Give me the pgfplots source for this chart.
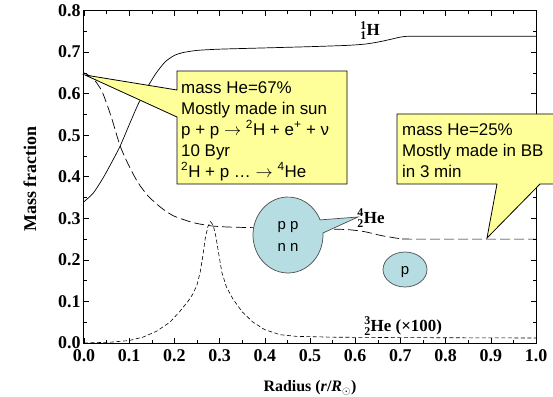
\documentclass[border=0pt]{standalone}
\usepackage{fontspec}
\setmainfont{Liberation Serif}
\newfontfamily\arial{Liberation Sans}
\usepackage{amsmath}
\usepackage{pgfplots}
\pgfplotsset{compat=1.18}
\definecolor{calloutyellow}{RGB}{255,255,153}
\definecolor{calloutblue}{RGB}{182,221,226}
\newcommand\iso[3]{$^{\text{#1}}_{\text{#2}}$#3}
\newcommand\cfont{\arial\fontsize{17}{21}\selectfont}

\pgfplotstableread{
x y
0.00 0.340
0.02 0.360
0.04 0.393
0.06 0.432
0.08 0.474
0.10 0.525
0.12 0.575
0.14 0.615
0.16 0.650
0.18 0.677
0.20 0.692
0.22 0.699
0.25 0.704
0.30 0.707
0.40 0.710
0.50 0.713
0.58 0.716
0.62 0.719
0.65 0.724
0.68 0.731
0.70 0.736
0.72 0.738
0.80 0.738
1.00 0.738
}\hone

\pgfplotstableread{
x y
0.00 0.650
0.02 0.637
0.04 0.605
0.06 0.545
0.08 0.474
0.10 0.425
0.12 0.385
0.14 0.356
0.16 0.335
0.18 0.318
0.20 0.305
0.24 0.290
0.28 0.282
0.32 0.279
0.40 0.277
0.50 0.275
0.58 0.273
0.62 0.268
0.66 0.258
0.70 0.251
0.72 0.250
1.00 0.250
}\hefour

\pgfplotstableread{
x y
0.000 0.000
0.060 0.002
0.100 0.006
0.130 0.014
0.160 0.028
0.190 0.050
0.212 0.076
0.230 0.100
0.241 0.118
0.250 0.140
0.257 0.170
0.263 0.210
0.268 0.250
0.274 0.280
0.280 0.292
0.286 0.283
0.292 0.255
0.298 0.215
0.305 0.170
0.315 0.135
0.330 0.105
0.350 0.075
0.374 0.050
0.400 0.032
0.434 0.020
0.470 0.016
0.550 0.014
0.700 0.013
1.000 0.012
}\hethree

\begin{document}
\begin{tikzpicture}[x=1bp,y=1bp]
\path[use as bounding box, clip] (-84,-53) rectangle (469,343);
\begin{axis}[
  at={(0,0)}, anchor=south west,
  scale only axis, width=452bp, height=332.5bp,
  xmin=0, xmax=1, ymin=0, ymax=0.8,
  xtick={0,0.1,0.2,0.3,0.4,0.5,0.6,0.7,0.8,0.9,1.0},
  ytick={0,0.1,0.2,0.3,0.4,0.5,0.6,0.7,0.8},
  minor tick num=1,
  tick align=inside,
  major tick length=5bp, minor tick length=3bp,
  axis line style={line width=1bp},
  every tick/.style={black, line width=0.6bp},
  tick label style={font=\fontsize{18}{18}\selectfont\bfseries},
  xticklabel style={yshift=-3bp},
  yticklabel style={xshift=0bp},
  /pgf/number format/assume math mode=true,
  /pgf/number format/.cd, fixed, fixed zerofill, precision=1, /pgfplots/.cd,
  xlabel={\textbf{Radius (\textit{r}/\textit{R}$_{\odot}$)}},
  ylabel={\textbf{Mass fraction}},
  every axis x label/.style={at={(axis description cs:0.5,-0.135)}, anchor=center, font=\fontsize{16}{16}\selectfont},
  every axis y label/.style={at={(axis description cs:-0.1195,0.493)}, anchor=center, rotate=90, font=\fontsize{18}{18}\selectfont},
]
\addplot[black, line width=0.7bp, smooth, tension=0.4] table {\hone};
\addplot[black, line width=0.7bp, smooth, tension=0.4, dash pattern=on 10bp off 4bp] table {\hefour};
\addplot[black, line width=0.6bp, dash pattern=on 4bp off 2.5bp] table {\hethree};
\node[font=\fontsize{17}{17}\selectfont\bfseries] at (axis cs:0.633,0.752) {\iso{1}{1}{H}};
\node[font=\fontsize{17}{17}\selectfont\bfseries] at (axis cs:0.635,0.300) {\iso{4}{2}{He}};
\node[font=\fontsize{17}{17}\selectfont\bfseries] at (axis cs:0.706,0.040) {\iso{3}{2}{He} (×100)};
\end{axis}
\begin{scope}[shift={(-84,343)}, yscale=-1]
% callout 1
\filldraw[fill=calloutyellow, draw=black, line width=0.8bp]
  (177,71) -- (347,71) -- (347,184) -- (177,184) -- (177,117) -- (85,75) -- (177,90) -- cycle;
\node[anchor=base west, inner sep=0, font=\cfont] at (181,93) {mass He=67\%};
\node[anchor=base west, inner sep=0, font=\cfont] at (181,114) {Mostly made in sun};
\node[anchor=base west, inner sep=0, font=\cfont] at (181,135) {p + p $\rightarrow$ \textsuperscript{2}H + e\textsuperscript{+} + ν};
\node[anchor=base west, inner sep=0, font=\cfont] at (181,156) {10 Byr};
\node[anchor=base west, inner sep=0, font=\cfont] at (181,177) {\textsuperscript{2}H + p … $\rightarrow$ \textsuperscript{4}He};
% callout 2
\filldraw[fill=calloutyellow, draw=black, line width=0.8bp]
  (397,114) -- (620,114) -- (620,184) -- (540,184) -- (487,238) -- (497,184) -- (397,184) -- cycle;
\node[anchor=base west, inner sep=0, font=\cfont] at (402,135) {mass He=25\%};
\node[anchor=base west, inner sep=0, font=\cfont] at (402,156) {Mostly made in BB};
\node[anchor=base west, inner sep=0, font=\cfont] at (402,177) {in 3 min};
% blue callouts
\filldraw[fill=calloutblue, draw=black!70, line width=0.7bp]
  (322.95,233.0) arc[start angle=-3, end angle=336.6, x radius=35, y radius=38] -- (358,217) -- cycle;
\node[anchor=base, inner sep=0, font=\arial\fontsize{15}{15}\selectfont] at (288,229) {p p};
\node[anchor=base, inner sep=0, font=\arial\fontsize{15}{15}\selectfont] at (288,251) {n n};
\filldraw[fill=calloutblue, draw=black!70, line width=0.7bp] (405,269.5) ellipse [x radius=22, y radius=17.5];
\node[anchor=base, inner sep=0, font=\arial\fontsize{15}{15}\selectfont] at (405,274) {p};
\end{scope}
\end{tikzpicture}
\end{document}
